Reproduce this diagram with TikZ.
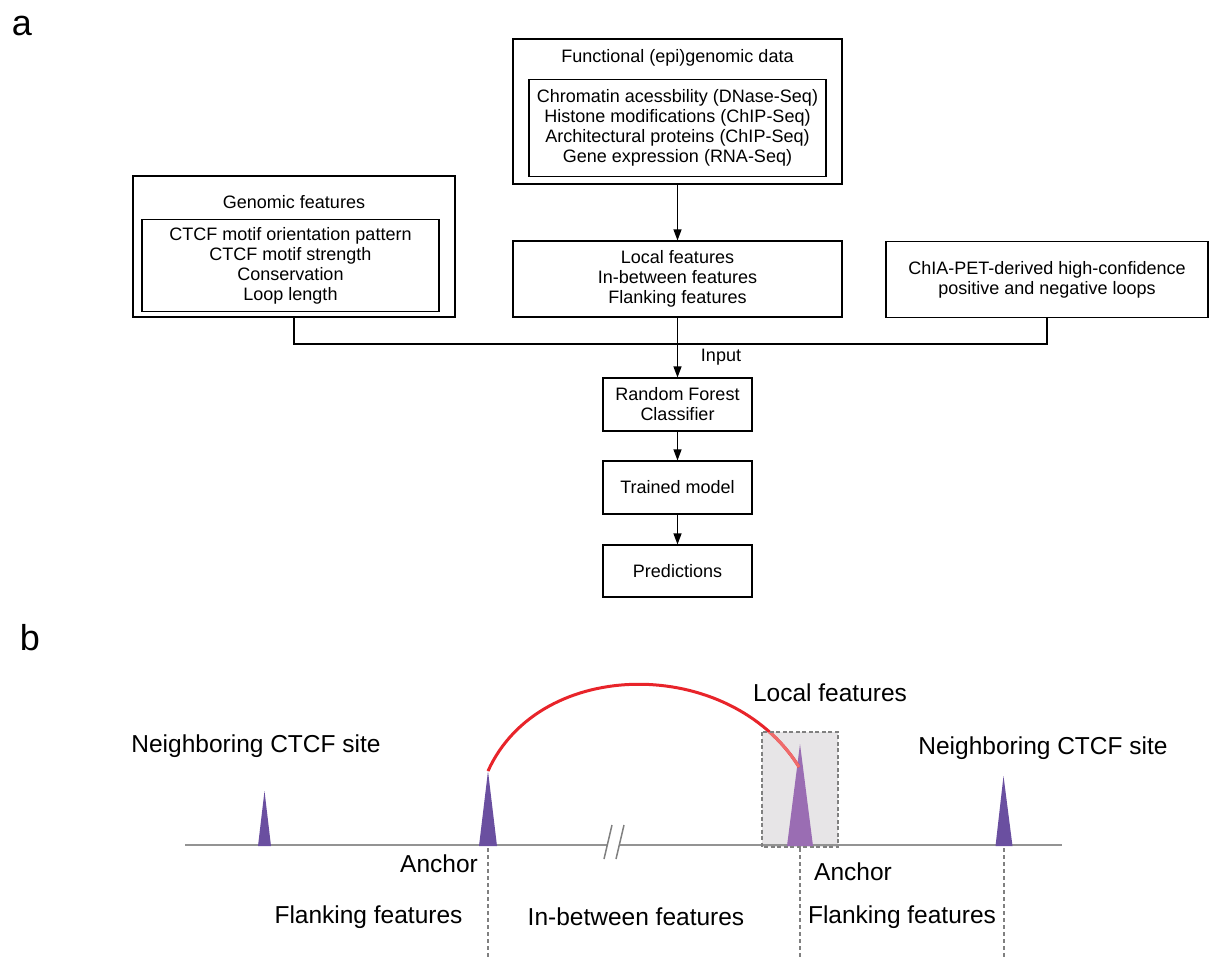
\documentclass[tikz,border=0pt]{standalone}
\usepackage{fontspec}
\setmainfont{Liberation Sans}
\usetikzlibrary{arrows.meta,positioning}
\definecolor{peak}{HTML}{6A4FA0}
\definecolor{peaklight}{HTML}{9A6DB3}
\definecolor{boxgray}{HTML}{E7E5E7}
\definecolor{looped}{HTML}{E8242A}
\definecolor{loopedlight}{HTML}{EF6B6B}

\begin{document}
\begin{tikzpicture}[x=1pt,y=-1pt,
    box/.style={draw, line width=1.1pt, align=center, inner sep=0pt, font=\fontsize{18}{20}\selectfont},
    title/.style={font=\fontsize{18}{20}\selectfont},
    lbl/.style={font=\fontsize{24.5}{28}\selectfont},
    panel/.style={font=\fontsize{36}{40}\selectfont},
    link/.style={line width=1.1pt},
    arr/.style={link, -{Triangle[length=11pt,width=8pt]}},
    guide/.style={gray, line width=1.3pt, dash pattern=on 4pt off 3pt},
    ]
    \useasboundingbox (0,0) rectangle (1209,960);

    \node[panel] (pa) at (22,26) {a};
    \node[panel] (pb) at (30,638) {b};

    % flow chart
    \node[box, minimum width=329pt, minimum height=145pt] (func) at (677.5,111.5) {};
    \node[title] (functitle) at (677.5,58) {Functional (epi)genomic data};
    \node[box, minimum width=297pt, minimum height=97pt] (funcin) at (677.5,128)
        {Chromatin acessbility (DNase-Seq)\\Histone modifications (ChIP-Seq)\\Architectural proteins (ChIP-Seq)\\Gene expression (RNA-Seq)};

    \node[box, minimum width=322pt, minimum height=141pt] (genomic) at (294,246.5) {};
    \node[title] (genomictitle) at (294,202) {Genomic features};
    \node[box, minimum width=297pt, minimum height=92pt] (genomicin) at (290.5,265.5)
        {CTCF motif orientation pattern\\CTCF motif strength\\Conservation\\Loop length};

    \node[box, minimum width=329pt, minimum height=76pt] (local) at (677.5,279)
        {Local features\\In-between features\\Flanking features};
    \node[box, minimum width=322pt, minimum height=76pt] (chia) at (1047,279.5)
        {ChIA-PET-derived high-confidence\\positive and negative loops};

    \node[box, minimum width=149pt, minimum height=53pt] (forest) at (677.5,404.5) {Random Forest\\Classifier};
    \node[box, minimum width=149pt, minimum height=53pt] (trained) at (677.5,487.5) {Trained model};
    \node[box, minimum width=149pt, minimum height=52pt] (pred) at (677.5,571) {Predictions};

    \coordinate (join) at (677.5,344);
    \node[title] (input) at (721,357) {Input};

    \draw[arr] (func) -- (local);
    \draw[link] (genomic.south) |- (join) -| (chia.south);
    \draw[arr] (local) -- (forest);
    \draw[arr] (forest) -- (trained);
    \draw[arr] (trained) -- (pred);

    % genome track
    \fill[boxgray] (762,732) rectangle (838,847);
    \draw[gray!85, line width=1.8pt] (185,845) -- (608,845) (620,845) -- (1062,845);
    \draw[gray, line width=1.5pt] (604,859) -- (612,825) (616,859) -- (624,825);

    \coordinate (nbL) at (264.5,791);
    \coordinate (ancL) at (488,771);
    \coordinate (ancR) at (800,744);
    \coordinate (nbR) at (1003.5,776);
    \fill[peak] (258,846) -- (nbL) -- (271,846) -- cycle;
    \fill[peak] (479,846) -- (ancL) -- (497,846) -- cycle;
    \fill[peaklight] (787,846) -- (ancR) -- (813,846) -- cycle;
    \fill[peak] (995.5,846) -- (nbR) -- (1012.5,846) -- cycle;

    \draw[looped, line width=3pt] (ancL) .. controls (540,656) and (730,656) .. (799,767);
    \begin{scope}
    \clip (762,732) rectangle (838,847);
    \draw[loopedlight, line width=3pt] (ancL) .. controls (540,656) and (730,656) .. (799,767);
    \end{scope}
    \draw[gray, line width=1.3pt, dash pattern=on 4pt off 2.5pt] (762,732) rectangle (838,847);

    \draw[guide] (488,848) -- (488,960);
    \draw[guide] (800,848) -- (800,960);
    \draw[guide] (1004,848) -- (1004,960);

    \node[lbl] (nbLtext) at (256,746) {Neighboring CTCF site};
    \node[lbl] (nbRtext) at (1043,748) {Neighboring CTCF site};
    \node[lbl] (localtext) at (830,693) {Local features};
    \node[lbl] (ancLtext) at (439,864) {Anchor};
    \node[lbl] (ancRtext) at (853,872) {Anchor};
    \node[lbl] (flankL) at (368.5,917) {Flanking features};
    \node[lbl] (between) at (636,917) {In-between features};
    \node[lbl] (flankR) at (902,917) {Flanking features};
    %
\end{tikzpicture}
\end{document}
